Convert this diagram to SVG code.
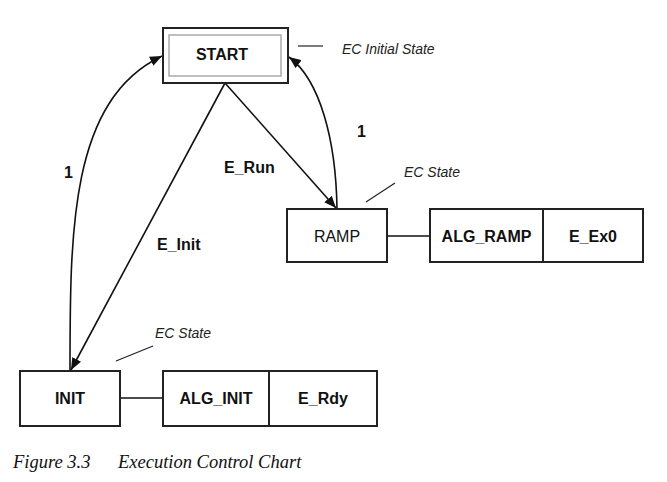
<svg xmlns="http://www.w3.org/2000/svg" width="667" height="482" viewBox="0 0 667 482">
<style>
.box{fill:#fff;stroke:#222;stroke-width:2}
.inner{fill:none;stroke:#aaa;stroke-width:1.5}
.ln{fill:none;stroke:#111;stroke-width:1.6}
.lead{fill:none;stroke:#222;stroke-width:1.2}
.b{font-family:"Liberation Sans",Arial,sans-serif;font-weight:bold;font-size:16px;fill:#111;text-anchor:middle}
.r{font-family:"Liberation Sans",Arial,sans-serif;font-size:16px;fill:#111;text-anchor:middle}
.lbl{font-family:"Liberation Sans",Arial,sans-serif;font-weight:bold;font-size:16px;fill:#111}
.note{font-family:"Liberation Sans",Arial,sans-serif;font-style:italic;font-size:14px;fill:#222}
.cap{font-family:"Liberation Serif","Times New Roman",serif;font-style:italic;font-size:18.5px;fill:#111}
</style>
<defs>
<marker id="ah" viewBox="0 0 12 10" refX="12" refY="5" markerWidth="12" markerHeight="10" markerUnits="userSpaceOnUse" orient="auto">
<path d="M0,0 L12,5 L0,10 Z" fill="#111"/>
</marker>
</defs>
<g id="connectors">
<path class="ln" d="M225,83 L336,208" marker-end="url(#ah)"/>
<path class="ln" d="M337,209 C336,140 320,80 289,57" marker-end="url(#ah)"/>
<path class="ln" d="M225,83 L71,370" marker-end="url(#ah)"/>
<path class="ln" d="M70,371 C70,230 70,100 162,56" marker-end="url(#ah)"/>
<line class="ln" x1="387" y1="236" x2="430" y2="236"/>
<line class="ln" x1="120" y1="398" x2="163" y2="398"/>
<text class="lbl" x="224" y="173">E_Run</text>
<text class="lbl" x="357" y="137">1</text>
<text class="lbl" x="157" y="250">E_Init</text>
<text class="lbl" x="64" y="178">1</text>
</g>
<g id="start">
<rect class="box" x="163" y="28" width="125" height="55"/>
<rect class="inner" x="169" y="35" width="112" height="41"/>
<text class="b" x="222" y="60">START</text>
</g>
<g id="note-initial">
<line class="lead" x1="298" y1="46" x2="323" y2="46"/>
<text class="note" x="342" y="54">EC Initial State</text>
</g>
<g id="ramp">
<rect class="box" x="287" y="209" width="100" height="53"/>
<text class="r" x="337" y="242">RAMP</text>
</g>
<g id="note-ramp">
<line class="lead" x1="366" y1="202" x2="395" y2="183"/>
<text class="note" x="404" y="177">EC State</text>
</g>
<g id="ramp-action">
<rect class="box" x="430" y="209" width="213" height="53"/>
<line class="box" x1="543" y1="209" x2="543" y2="262" stroke-width="1.5"/>
<text class="b" x="486.5" y="242">ALG_RAMP</text>
<text class="b" x="593" y="242">E_Ex0</text>
</g>
<g id="init">
<rect class="box" x="20" y="371" width="100" height="55"/>
<text class="b" x="70" y="404">INIT</text>
</g>
<g id="note-init">
<line class="lead" x1="116" y1="361" x2="153" y2="346"/>
<text class="note" x="155" y="338">EC State</text>
</g>
<g id="init-action">
<rect class="box" x="163" y="371" width="214" height="55"/>
<line class="box" x1="269" y1="371" x2="269" y2="426" stroke-width="1.5"/>
<text class="b" x="216" y="404">ALG_INIT</text>
<text class="b" x="323" y="404">E_Rdy</text>
</g>
<g id="caption">
<text class="cap" x="13" y="468">Figure 3.3</text>
<text class="cap" x="118" y="468">Execution Control Chart</text>
</g>
</svg>
